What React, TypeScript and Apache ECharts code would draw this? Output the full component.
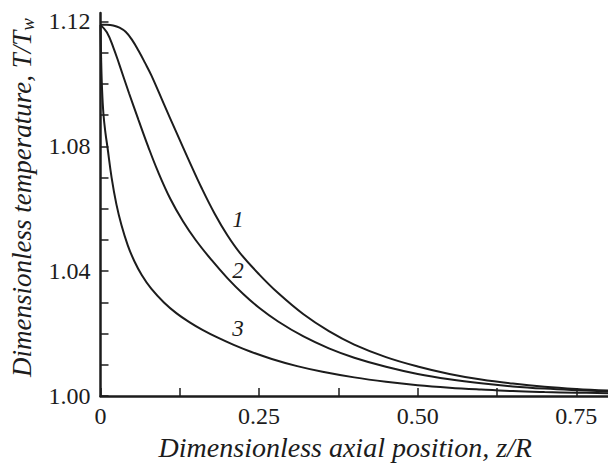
import React, { useEffect, useRef } from "react";
import * as echarts from "echarts";

// Curve 1
const curve1X = [0, 0.01, 0.02, 0.03, 0.04, 0.05, 0.06, 0.07, 0.08, 0.10, 0.12, 0.14, 0.16, 0.18, 0.20, 0.22, 0.25, 0.28, 0.32, 0.36, 0.40, 0.45, 0.50, 0.55, 0.60, 0.65, 0.70, 0.75, 0.80];
const curve1Y = [1.1189, 1.1189, 1.1187, 1.118, 1.1166, 1.114, 1.1106, 1.1068, 1.1028, 1.0935, 1.0843, 1.0752, 1.0664, 1.0584, 1.0515, 1.0458, 1.039, 1.033, 1.0262, 1.0208, 1.0165, 1.0125, 1.0095, 1.0071, 1.0053, 1.004, 1.003, 1.0023, 1.0018];
// Curve 2
const curve2X = [0, 0.01, 0.02, 0.03, 0.045, 0.06, 0.075, 0.09, 0.11, 0.13, 0.15, 0.175, 0.20, 0.225, 0.25, 0.28, 0.32, 0.36, 0.40, 0.45, 0.50, 0.55, 0.60, 0.65, 0.70, 0.75, 0.80];
const curve2Y = [1.1189, 1.1165, 1.1118, 1.106, 1.097, 1.0884, 1.08, 1.0722, 1.0632, 1.056, 1.05, 1.0436, 1.0378, 1.0327, 1.0283, 1.0239, 1.0191, 1.0153, 1.0123, 1.0094, 1.0071, 1.0054, 1.0041, 1.0031, 1.0024, 1.0019, 1.0015];
// Curve 3
const curve3X = [0, 0.001, 0.0025, 0.0047, 0.008, 0.011, 0.0175, 0.025, 0.033, 0.043, 0.0534, 0.065, 0.08, 0.10, 0.12, 0.14, 0.16, 0.185, 0.21, 0.237, 0.27, 0.31, 0.35, 0.40, 0.45, 0.50, 0.55, 0.60, 0.65, 0.70, 0.75, 0.80];
const curve3Y = [1.1189, 1.108, 1.098, 1.0902, 1.084, 1.0797, 1.07, 1.0615, 1.0548, 1.0483, 1.0432, 1.0388, 1.0344, 1.03, 1.0265, 1.0237, 1.0213, 1.0187, 1.0164, 1.0142, 1.0119, 1.0096, 1.0078, 1.006, 1.0046, 1.0035, 1.0027, 1.0021, 1.0016, 1.0013, 1.0011, 1.0009];

const curveLabels = ["1", "2", "3"];
const labelX = [0.2166, 0.2166, 0.2166];
const labelY = [1.0567, 1.0402, 1.0217];

const xTickValues = [0, 0.125, 0.25, 0.375, 0.5, 0.625, 0.75];
const xLabelValues = [0, 0.25, 0.5, 0.75];
const yTickValues = [1.0, 1.01, 1.02, 1.03, 1.04, 1.05, 1.06, 1.07, 1.08, 1.09, 1.1, 1.11, 1.12];
const yLabelValues = [1.0, 1.04, 1.08, 1.12];

const FONT = "Times New Roman, Liberation Serif, DejaVu Serif, serif";
const INK = "#1c1c1c";

function pairs(xs: number[], ys: number[]) {
  return xs.map((x, i) => [x, ys[i]]);
}

export default function App() {
  const ref = useRef<HTMLDivElement>(null);
  useEffect(() => {
    if (!ref.current) return;
    const chart = echarts.init(ref.current, null, { renderer: "svg" });
    const series = [
      { x: curve1X, y: curve1Y },
      { x: curve2X, y: curve2Y },
      { x: curve3X, y: curve3Y },
    ].map((c, i) => ({
      type: "line",
      data: pairs(c.x, c.y),
      smooth: 0.4,
      showSymbol: false,
      lineStyle: { color: INK, width: 2 },
      markPoint: {
        symbol: "circle",
        symbolSize: 1,
        itemStyle: { color: "rgba(0,0,0,0)" },
        data: [
          {
            coord: [labelX[i], labelY[i]],
            label: {
              show: true,
              position: "inside",
              formatter: curveLabels[i],
              fontFamily: FONT,
              fontStyle: "italic",
              fontSize: 23,
              color: INK,
            },
          },
        ],
      },
    }));
    chart.setOption({
      animation: false,
      backgroundColor: "#fff",
      grid: { left: 99, right: 0, top: 13, bottom: 68 },
      xAxis: {
        type: "value",
        min: 0,
        max: 0.8,
        name: "Dimensionless axial position, z/R",
        nameLocation: "middle",
        nameGap: 27,
        nameTextStyle: {
          fontFamily: FONT,
          fontStyle: "italic",
          fontSize: 28,
          color: INK,
          padding: [0, 18, 0, 0],
        },
        axisLine: { show: true, lineStyle: { color: INK, width: 2.5 } },
        axisTick: {
          show: true,
          inside: true,
          length: 8,
          customValues: xTickValues,
          lineStyle: { color: INK, width: 1.5 },
        },
        axisLabel: {
          customValues: xLabelValues,
          formatter: (v: number) => (v === 0 ? "0" : v.toFixed(2)),
          fontFamily: FONT,
          fontSize: 24,
          color: INK,
          margin: 8,
        },
        splitLine: { show: false },
      },
      yAxis: {
        type: "value",
        min: 1.0,
        max: 1.1227,
        name: "Dimensionless temperature, T/T{sub|w}",
        nameLocation: "middle",
        nameGap: 64,
        nameTextStyle: {
          fontFamily: FONT,
          fontStyle: "italic",
          fontSize: 27,
          color: INK,
          padding: [0, 0, 0, 14],
          rich: {
            sub: {
              fontFamily: FONT,
              fontStyle: "italic",
              fontSize: 19,
              color: INK,
              padding: [11, 0, 0, 0],
            },
          },
        },
        axisLine: { show: true, lineStyle: { color: INK, width: 2.5 } },
        axisTick: {
          show: true,
          inside: true,
          length: 8,
          customValues: yTickValues,
          lineStyle: { color: INK, width: 1.5 },
        },
        axisLabel: {
          customValues: yLabelValues,
          formatter: (v: number) => v.toFixed(2),
          fontFamily: FONT,
          fontSize: 24,
          color: INK,
          margin: 10,
        },
        splitLine: { show: false },
      },
      series,
    });
    return () => chart.dispose();
  }, []);
  return <div ref={ref} style={{ width: 608, height: 466, position: "absolute", left: 0, top: 0 }} />;
}
